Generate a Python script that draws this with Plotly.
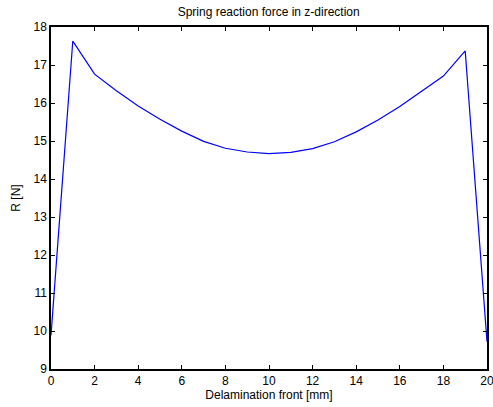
import plotly.graph_objects as go

x_mm = list(range(0, 21))
R_N = [9.89, 17.63, 16.76, 16.32, 15.92, 15.57, 15.26, 14.99, 14.81, 14.71, 14.67,
       14.70, 14.80, 14.98, 15.24, 15.55, 15.91, 16.31, 16.71, 17.37, 9.72]

title = "Spring reaction force in z-direction"
xlabel = "Delamination front [mm]"
ylabel = "R [N]"

FONT = "Liberation Sans, Arial"

fig = go.Figure()
fig.add_trace(go.Scatter(x=x_mm, y=R_N, mode="lines",
                         line=dict(color="#0000ff", width=1.2)))

axis_common = dict(showgrid=False, zeroline=False, showline=True, linecolor="black",
                   linewidth=1.5, mirror="allticks", ticks="inside", ticklen=4,
                   tickcolor="black", tickwidth=1, automargin=False,
                   ticklabeloverflow="allow",
                   tickfont=dict(family=FONT, size=12, color="black"))

fig.update_layout(
    width=493, height=407,
    margin=dict(l=51, r=6, t=27, b=38),
    paper_bgcolor="white", plot_bgcolor="white",
    showlegend=False,
    title=dict(text=title, x=0.545, xanchor="center", y=0.97, yanchor="middle",
               font=dict(family=FONT, size=12, color="black"), automargin=False),
    xaxis=dict(range=[0, 20], tickvals=list(range(0, 21, 2)),
               title=dict(text=xlabel, standoff=2,
                          font=dict(family=FONT, size=12, color="black")),
               **axis_common),
    yaxis=dict(range=[9, 18], tickvals=list(range(9, 19)),
               title=dict(text=ylabel, standoff=10,
                          font=dict(family=FONT, size=12, color="black")),
               **axis_common),
)

fig.write_html("out.html")
